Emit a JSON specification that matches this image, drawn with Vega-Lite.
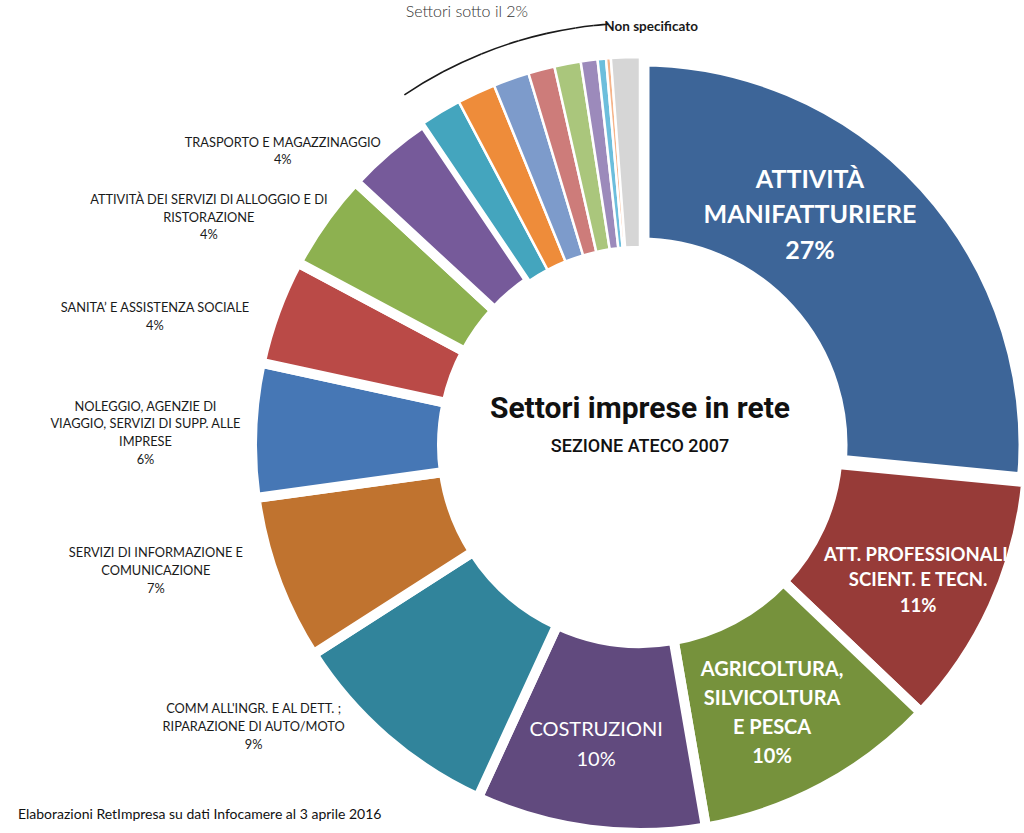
{
  "$schema": "https://vega.github.io/schema/vega-lite/v6.json",
  "width": 768,
  "height": 780,
  "autosize": {"type": "none"},
  "padding": {"left": 256, "top": 55, "right": 0, "bottom": 0},
  "background": "white",
  "config": {"view": {"stroke": null}},
  "title": {
    "text": "Elaborazioni RetImpresa su dati Infocamere al 3 aprile 2016",
    "orient": "bottom",
    "anchor": "start",
    "frame": "group",
    "dx": -238,
    "offset": -137,
    "baseline": "alphabetic",
    "font": "Lato",
    "fontSize": 14,
    "fontWeight": "normal",
    "color": "#111111"
  },
  "data": {
    "values": [
      {"rank": 1, "name": "Attività manifatturiere", "value": 26.6, "label": "ATTIVITÀ\nMANIFATTURIERE\n27%"},
      {"rank": 2, "name": "Att. professionali, scientifiche e tecniche", "value": 10.6, "label": "ATT. PROFESSIONALI,\nSCIENT. E TECN.\n11%"},
      {"rank": 3, "name": "Agricoltura, silvicoltura e pesca", "value": 10.2, "label": "AGRICOLTURA,\nSILVICOLTURA\nE PESCA\n10%"},
      {"rank": 4, "name": "Costruzioni", "value": 9.6, "label": "COSTRUZIONI\n10%"},
      {"rank": 5, "name": "Commercio all'ingrosso e al dettaglio", "value": 9.1, "label": "COMM ALL'INGR. E AL DETT. ;\nRIPARAZIONE DI AUTO/MOTO\n9%"},
      {"rank": 6, "name": "Servizi di informazione e comunicazione", "value": 6.9, "label": "SERVIZI DI INFORMAZIONE E\nCOMUNICAZIONE\n7%"},
      {"rank": 7, "name": "Noleggio, agenzie di viaggio", "value": 5.6, "label": "NOLEGGIO, AGENZIE DI\nVIAGGIO, SERVIZI DI SUPP. ALLE\nIMPRESE\n6%"},
      {"rank": 8, "name": "Sanità e assistenza sociale", "value": 4.4, "label": "SANITA’ E ASSISTENZA SOCIALE\n4%"},
      {"rank": 9, "name": "Alloggio e ristorazione", "value": 4.1, "label": "ATTIVITÀ DEI SERVIZI DI ALLOGGIO E DI\nRISTORAZIONE\n4%"},
      {"rank": 10, "name": "Trasporto e magazzinaggio", "value": 3.7, "label": "TRASPORTO E MAGAZZINAGGIO\n4%"},
      {"rank": 11, "name": "Altro settore 1", "value": 1.7, "label": ""},
      {"rank": 12, "name": "Altro settore 2", "value": 1.6, "label": ""},
      {"rank": 13, "name": "Altro settore 3", "value": 1.5, "label": "Settori sotto il 2%"},
      {"rank": 14, "name": "Altro settore 4", "value": 1.1, "label": ""},
      {"rank": 15, "name": "Altro settore 5", "value": 1.1, "label": ""},
      {"rank": 16, "name": "Altro settore 6", "value": 0.7, "label": ""},
      {"rank": 17, "name": "Altro settore 7", "value": 0.35, "label": ""},
      {"rank": 18, "name": "Altro settore 8", "value": 0.2, "label": ""},
      {"rank": 19, "name": "Non specificato", "value": 1.2, "label": "Non specificato"}
    ]
  },
  "resolve": {"scale": {"theta": "independent"}},
  "layer": [
    {
      "mark": {"type": "arc", "innerRadius": 198, "outerRadius": 388, "stroke": "white"},
      "encoding": {
        "theta": {"field": "value", "type": "quantitative", "stack": true},
        "order": {"field": "rank", "type": "quantitative"},
        "color": {
          "field": "name",
          "type": "nominal",
          "legend": null,
          "scale": {
            "domain": ["Attività manifatturiere", "Att. professionali, scientifiche e tecniche", "Agricoltura, silvicoltura e pesca", "Costruzioni", "Commercio all'ingrosso e al dettaglio", "Servizi di informazione e comunicazione", "Noleggio, agenzie di viaggio", "Sanità e assistenza sociale", "Alloggio e ristorazione", "Trasporto e magazzinaggio", "Altro settore 1", "Altro settore 2", "Altro settore 3", "Altro settore 4", "Altro settore 5", "Altro settore 6", "Altro settore 7", "Altro settore 8", "Non specificato"],
            "range": ["#3D6598", "#973B38", "#76923C", "#614A7E", "#31849B", "#C0732F", "#4677B5", "#BA4A47", "#8DB150", "#765A9A", "#44A5BE", "#EE8C3A", "#7D9BCB", "#CD7C7A", "#AAC67C", "#9C8ABB", "#6DBEDC", "#F5B48A", "#D6D6D6"]
          }
        },
        "strokeWidth": {"condition": [{"test": "datum.value >= 20", "value": 19}, {"test": "datum.value >= 3", "value": 10}], "value": 2.5}
      }
    },
    {
      "mark": {"type": "arc", "innerRadius": 422, "outerRadius": 422, "fillOpacity": 0, "stroke": "#1a1a1a", "strokeWidth": 1.6},
      "encoding": {
        "theta": {"field": "value", "type": "quantitative", "stack": true},
        "order": {"field": "rank", "type": "quantitative"},
        "strokeOpacity": {"condition": {"test": "datum.value < 2 && datum.name != 'Non specificato'", "value": 1}, "value": 0}
      }
    },
    {
      "mark": {"type": "text", "radius": 496, "font": "Lato", "fontSize": 12.8, "lineHeight": 17.8, "color": "#1a1a1a", "align": "center", "baseline": "middle", "lineBreak": "\n"},
      "encoding": {
        "theta": {"field": "value", "type": "quantitative", "stack": true, "scale": {"range": [1.1886, 5.9516]}},
        "order": {"field": "rank", "type": "quantitative"},
        "detail": {"field": "name", "type": "nominal"},
        "text": {"condition": {"test": "datum.value >= 3 && datum.value < 9 && datum.name != 'Trasporto e magazzinaggio' && datum.name != 'Sanità e assistenza sociale'", "field": "label"}, "value": ""}
      }
    },
    {
      "mark": {"type": "text", "radius": 504, "font": "Lato", "fontSize": 12.8, "lineHeight": 17.8, "color": "#1a1a1a", "align": "center", "baseline": "middle", "lineBreak": "\n"},
      "encoding": {
        "theta": {"field": "value", "type": "quantitative", "stack": true, "scale": {"range": [1.1486, 5.9116]}},
        "order": {"field": "rank", "type": "quantitative"},
        "detail": {"field": "name", "type": "nominal"},
        "text": {"condition": {"test": "datum.name == 'Sanità e assistenza sociale'", "field": "label"}, "value": ""}
      }
    },
    {
      "mark": {"type": "text", "radius": 468, "font": "Lato", "fontSize": 12.8, "lineHeight": 17.8, "color": "#1a1a1a", "align": "center", "baseline": "middle", "lineBreak": "\n"},
      "encoding": {
        "theta": {"field": "value", "type": "quantitative", "stack": true, "scale": {"range": [1.1886, 5.9516]}},
        "order": {"field": "rank", "type": "quantitative"},
        "detail": {"field": "name", "type": "nominal"},
        "text": {"condition": {"test": "datum.name == 'Trasporto e magazzinaggio' || datum.name == 'Commercio all\\'ingrosso e al dettaglio'", "field": "label"}, "value": ""}
      }
    },
    {
      "mark": {"type": "text", "radius": 315, "font": "Lato", "fontWeight": "bold", "fontSize": 25, "lineHeight": 35.5, "color": "white", "align": "center", "baseline": "middle", "lineBreak": "\n"},
      "encoding": {
        "theta": {"field": "value", "type": "quantitative", "stack": true, "scale": {"range": [-0.2635, 6.0197]}},
        "order": {"field": "rank", "type": "quantitative"},
        "detail": {"field": "name", "type": "nominal"},
        "text": {"condition": {"test": "datum.name == 'Attività manifatturiere'", "field": "label"}, "value": ""}
      }
    },
    {
      "mark": {"type": "text", "radius": 299, "font": "Lato", "fontWeight": "bold", "fontSize": 18.5, "lineHeight": 25.5, "color": "white", "align": "center", "baseline": "middle", "lineBreak": "\n"},
      "encoding": {
        "theta": {"field": "value", "type": "quantitative", "stack": true, "scale": {"range": [-0.052, 6.231]}},
        "order": {"field": "rank", "type": "quantitative"},
        "detail": {"field": "name", "type": "nominal"},
        "text": {"condition": {"test": "datum.name == 'Att. professionali, scientifiche e tecniche'", "field": "label"}, "value": ""}
      }
    },
    {
      "mark": {"type": "text", "radius": 261, "font": "Lato", "fontWeight": "bold", "fontSize": 20, "lineHeight": 29, "color": "white", "align": "center", "baseline": "middle", "lineBreak": "\n"},
      "encoding": {
        "theta": {"field": "value", "type": "quantitative", "stack": true, "scale": {"range": [-0.040, 6.243]}},
        "order": {"field": "rank", "type": "quantitative"},
        "detail": {"field": "name", "type": "nominal"},
        "text": {"condition": {"test": "datum.name == 'Agricoltura, silvicoltura e pesca'", "field": "label"}, "value": ""}
      }
    },
    {
      "mark": {"type": "text", "radius": 288, "font": "Lato", "fontWeight": "normal", "fontSize": 20, "lineHeight": 30, "color": "white", "align": "center", "baseline": "middle", "lineBreak": "\n"},
      "encoding": {
        "theta": {"field": "value", "type": "quantitative", "stack": true, "scale": {"range": [0.023, 6.306]}},
        "order": {"field": "rank", "type": "quantitative"},
        "detail": {"field": "name", "type": "nominal"},
        "text": {"condition": {"test": "datum.name == 'Costruzioni'", "field": "label"}, "value": ""}
      }
    },
    {
      "mark": {"type": "text", "radius": 466, "font": "Lato", "fontWeight": 300, "fontSize": 16, "color": "#333333", "align": "center", "baseline": "middle"},
      "encoding": {
        "theta": {"field": "value", "type": "quantitative", "stack": true, "scale": {"range": [-0.042, 6.241]}},
        "order": {"field": "rank", "type": "quantitative"},
        "detail": {"field": "name", "type": "nominal"},
        "text": {"condition": {"test": "datum.name == 'Altro settore 3'", "field": "label"}, "value": ""}
      }
    },
    {
      "mark": {"type": "text", "radius": 418, "dx": -20, "font": "Lato", "fontWeight": "bold", "fontSize": 13.5, "color": "#1a1a1a", "align": "left", "baseline": "middle"},
      "encoding": {
        "theta": {"field": "value", "type": "quantitative", "stack": true},
        "order": {"field": "rank", "type": "quantitative"},
        "detail": {"field": "name", "type": "nominal"},
        "text": {"condition": {"test": "datum.name == 'Non specificato'", "field": "label"}, "value": ""}
      }
    },
    {
      "data": {"values": [{"t": "Settori imprese in rete"}]},
      "mark": {"type": "text", "font": "Roboto", "fontWeight": "bold", "fontSize": 30, "dy": -36, "color": "#111111", "align": "center", "baseline": "middle"},
      "encoding": {"text": {"field": "t", "type": "nominal"}}
    },
    {
      "data": {"values": [{"t": "SEZIONE ATECO 2007"}]},
      "mark": {"type": "text", "font": "Roboto", "fontWeight": 500, "fontSize": 18, "dy": 2, "color": "#111111", "align": "center", "baseline": "middle"},
      "encoding": {"text": {"field": "t", "type": "nominal"}}
    }
  ]
}
